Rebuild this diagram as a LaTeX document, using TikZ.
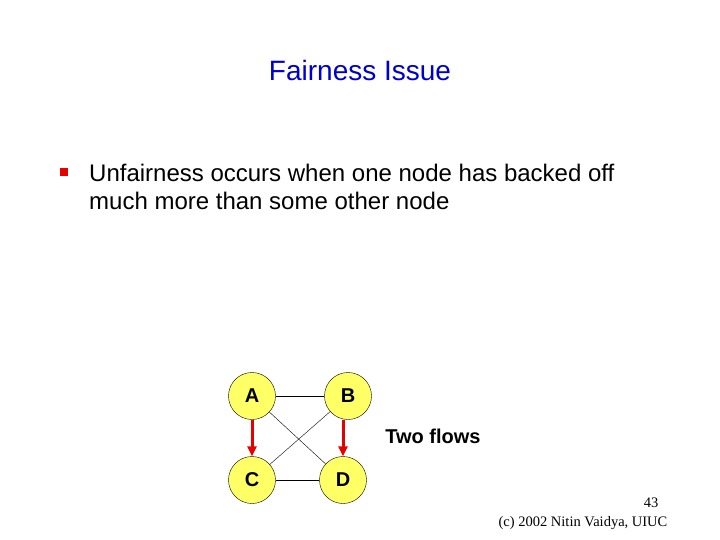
\documentclass[tikz,border=0pt]{standalone}
\usepackage{fontspec}
\setmainfont{Liberation Sans}
\newfontfamily\footfont{Liberation Serif}
\usetikzlibrary{arrows.meta}
\definecolor{titleblue}{RGB}{0,0,204}
\definecolor{nodeyellow}{RGB}{255,255,102}
\definecolor{flowred}{RGB}{230,0,0}

\begin{document}
\begin{tikzpicture}[x=1pt, y=-1pt,
    station/.style={circle, draw, fill=nodeyellow, minimum size=47pt, inner sep=0pt,
      font=\fontsize{20}{20}\selectfont\bfseries},
    flow/.style={draw=flowred, line width=3pt, -{Triangle[length=10pt,width=9pt]}},
    plain/.style={inner sep=0pt}]
  \fill[white] (0,0) rectangle (720,540);
  \useasboundingbox (0,0) rectangle (720,540);

  \node[plain, text=titleblue, font=\fontsize{28}{28}\selectfont] (title) at (360,70) {Fairness Issue};
  \node[fill=flowred, minimum size=8pt, inner sep=0pt] (bullet) at (64,172) {};
  \node[plain, anchor=base west, align=left, font=\fontsize{24}{28.5}\selectfont] (point) at (89,210)
    {Unfairness occurs when one node has backed off\\much more than some other node};

  \node[station] (A) at (252,396) {A};
  \node[station] (B) at (348,396) {B};
  \node[station] (C) at (252,480) {C};
  \node[station] (D) at (343,480) {D};

  \draw (A) -- (B);
  \draw (C) -- (D);
  \draw (A) -- (D);
  \draw (B) -- (C);
  \draw[flow] (A.south) -- (C.north);
  \draw[flow] (B.south -| D.north) -- (D.north);

  \node[plain, font=\fontsize{20}{20}\selectfont\bfseries] (flows) at (433,436) {Two flows};
  \node[plain, font=\footfont\fontsize{14.5}{14.5}\selectfont] (page) at (651,503) {43};
  \node[plain, font=\footfont\fontsize{14.5}{14.5}\selectfont] (credit) at (583,523) {(c) 2002 Nitin Vaidya, UIUC};
\end{tikzpicture}
\end{document}
